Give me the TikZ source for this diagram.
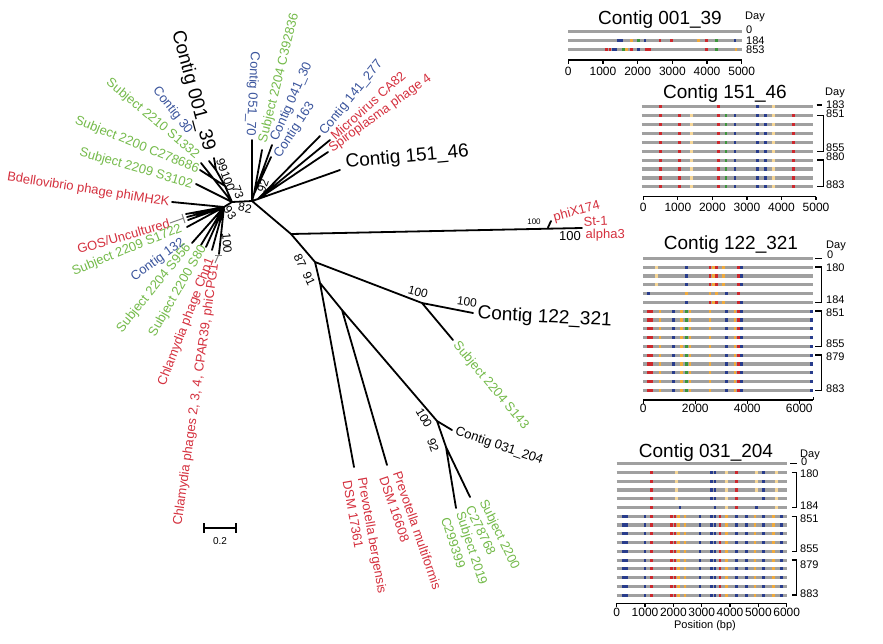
\documentclass[tikz,border=0pt]{standalone}
\usepackage{fontspec}
\setmainfont{Liberation Sans}
\definecolor{cr}{RGB}{212,48,62}
\definecolor{cg}{RGB}{116,186,74}
\definecolor{cb}{RGB}{58,84,156}
\definecolor{gbar}{RGB}{160,160,160}
\definecolor{dr}{RGB}{205,40,45}
\definecolor{db}{RGB}{40,60,140}
\definecolor{dg}{RGB}{60,150,60}
\definecolor{dor}{RGB}{240,170,60}
\definecolor{lor}{RGB}{246,214,150}
\newcommand\mkdots[3]{\foreach \yy in {#2}{\foreach \xx/\cc in {#3}{\fill[\cc] ({#1+\xx/3-1.2},{\yy-1.6}) rectangle ++(2.4,3.2);}}}
\begin{document}
\begin{tikzpicture}[x=1pt,y=-1pt,
  br/.style={line width=1.8pt,line cap=round,line join=round},
  gr/.style={line width=1pt,gray},
  lab/.style={font=\fontsize{13}{15}\selectfont,inner sep=0.5pt},
  big/.style={font=\fontsize{19}{22}\selectfont,inner sep=0.5pt},
  bs/.style={font=\fontsize{12}{14}\selectfont,inner sep=0.3pt},
  ttl/.style={font=\fontsize{19}{22}\selectfont,inner sep=0pt},
  axl/.style={font=\fontsize{12}{14}\selectfont,inner sep=0pt},
  dayl/.style={font=\fontsize{11}{12}\selectfont,inner sep=0pt,anchor=west},
  bar/.style={line width=3.2pt,gbar},
  ax/.style={line width=1.2pt},
  brk/.style={line width=1.3pt}]
\useasboundingbox (0,0) rectangle (883,643);
% ---------------- tree coordinates
\coordinate (A) at (232,202);
\coordinate (B) at (252,201);
\coordinate (C) at (224,207);
\coordinate (Q1) at (225,186);
\coordinate (Q2) at (216,170);
\coordinate (D) at (258,199);
\coordinate (N92) at (254,194);
\coordinate (E) at (291,234);
\coordinate (F) at (582,228);
\coordinate (Fn) at (548,227.5);
\coordinate (G) at (315,262);
\coordinate (H) at (320,283);
\coordinate (I) at (422,303);
\coordinate (J) at (342,310);
\coordinate (K) at (437,421);
\coordinate (L) at (446,447);
\coordinate (t001) at (214,158);
\coordinate (t30) at (209,161);
\coordinate (t1332) at (201,163);
\coordinate (t278686) at (200,170);
\coordinate (t3102) at (196,184);
\coordinate (tBdel) at (172,202);
\coordinate (tGOS) at (184,218);
\coordinate (g1) at (186,214);
\coordinate (g2) at (187,217);
\coordinate (g3) at (188,220);
\coordinate (g4) at (193,213);
\coordinate (g5) at (197,216);
\coordinate (t1722) at (187,227);
\coordinate (t132) at (192,243);
\coordinate (t956) at (201,245);
\coordinate (t80) at (206,247);
\coordinate (tChp1) at (212,250);
\coordinate (tChl) at (219,254);
\coordinate (t051) at (252,140);
\coordinate (t392836) at (262,150);
\coordinate (t041) at (272,145);
\coordinate (t163) at (271,157);
\coordinate (t141) at (320,136);
\coordinate (tCA82) at (330,140);
\coordinate (tSpiro) at (328,152);
\coordinate (t151) at (340,170);
\coordinate (tphi) at (551,221);
\coordinate (t122) at (473,313);
\coordinate (t143) at (453,340);
\coordinate (tberg) at (354,467);
\coordinate (tmult) at (387,465);
\coordinate (t031) at (452,430);
\coordinate (t2019) at (456,508);
\coordinate (t2200) at (470,497);
% ---------------- branches
\draw[br] (A)--(B) (A)--(Q1) (Q1)--(Q2) (Q2)--(t001) (Q2)--(t30) (A)--(t1332)
  (Q1)--(t278686) (A)--(t3102) (A)--(C) (C)--(tBdel)
  (C)--(g1) (C)--(g2) (C)--(g3) (C)--(g4) (C)--(g5)
  (C)--(t1722) (C)--(t132) (C)--(t956) (C)--(t80) (C)--(tChp1) (C)--(tChl)
  (B)--(t051) (B)--(N92) (N92)--(t392836) (N92)--(t041) (N92)--(t163)
  (B)--(D) (D)--(t141) (D)--(tCA82) (D)--(tSpiro) (D)--(t151)
  (B)--(E) (E)--(F) (Fn)--(tphi) (E)--(G) (G)--(I) (I)--(t122) (I)--(t143)
  (G)--(H) (H)--(tberg) (H)--(J) (J)--(tmult) (J)--(K) (K)--(t031) (K)--(L)
  (L)--(t2019) (L)--(t2200);
% collapsed clade marks
\coordinate (gosA) at (182,214);
\coordinate (gosB) at (185,223);
\draw[gr] (gosA)--(gosB);
\coordinate (chA) at (215,255);
\coordinate (chB) at (222,255);
\draw[gr] (chA)--(chB);
% ---------------- labels, left
\node[big,anchor=east,rotate=-75] (l001) at (209,151) {Contig 001\_39};
\node[lab,cb,anchor=east,rotate=-52] (l30) at (190,133) {Contig 30};
\node[lab,cg,anchor=east,rotate=-40] (l1332) at (198,157) {Subject 2210 S1332};
\node[lab,cg,anchor=east,rotate=-22] (l278686) at (199,170) {Subject 2200 C278686};
\node[lab,cg,anchor=east,rotate=-16] (l3102) at (193,185) {Subject 2209 S3102};
\node[lab,cr,anchor=east,rotate=-9] (lBdel) at (170,203) {Bdellovibrio phage phiMH2K};
\node[lab,cr,anchor=east,rotate=16] (lGOS) at (170,223) {GOS/Uncultured};
\node[lab,cg,anchor=east,rotate=22] (l1722) at (182,228) {Subject 2209 S1722};
\node[lab,cb,anchor=east,rotate=36] (l132) at (184,241) {Contig 132};
\node[lab,cg,anchor=east,rotate=51] (l956) at (189,245) {Subject 2204 S956};
\node[lab,cg,anchor=east,rotate=60] (l80) at (204,246) {Subject 2200 S80};
\node[lab,cr,anchor=east,rotate=69] (lChp1) at (211,258) {Chlamydia phage Chp1};
\node[lab,cr,anchor=east,rotate=82] (lChl) at (215,263) {Chlamydia phages 2, 3, 4, CPAR39, phiCPG1};
\draw[gr] (lGOS.east)--(tGOS);
\draw[gr] (lChl.east)--(tChl);
% ---------------- labels, top
\node[lab,cb,anchor=east,rotate=-93] (l051) at (250,137) {Contig 051\_70};
\node[lab,cg,anchor=west,rotate=76] (l392836) at (263,143) {Subject 2204 C392836};
\node[lab,cb,anchor=west,rotate=66] (l041) at (274,141) {Contig 041\_30};
\node[lab,cb,anchor=west,rotate=57] (l163) at (277,157) {Contig 163};
\node[lab,cb,anchor=west,rotate=51] (l141) at (322,134) {Contig 141\_277};
\node[lab,cr,anchor=west,rotate=42] (lCA82) at (332,138) {Microvirus CA82};
\node[lab,cr,anchor=west,rotate=36] (lSpiro) at (330,150) {Spiroplasma phage 4};
\node[big,anchor=west,rotate=5] (l151) at (345,163) {Contig 151\_46};
% ---------------- labels, right and bottom
\node[lab,cr,anchor=west,rotate=15] (lphi) at (553,218) {phiX174};
\node[lab,cr,anchor=west,rotate=3] (lSt) at (583,222) {St-1};
\node[lab,cr,anchor=west] (lalpha) at (585,235) {alpha3};
\node[big,anchor=west,rotate=-3] (l122) at (477,314) {Contig 122\_321};
\node[lab,cg,anchor=west,rotate=-50] (l143) at (455,343) {Subject 2204 S143};
\node[lab,anchor=west,rotate=-19] (l031) at (455,431) {Contig 031\_204};
\node[lab,cr,anchor=west,rotate=-80] (lberg1) at (361,477) {Prevotella bergensis};
\node[lab,cr,anchor=west,rotate=-80] (lberg2) at (347,480) {DSM 17361};
\node[lab,cr,anchor=west,rotate=-71] (lmult1) at (397,471) {Prevotella multiformis};
\node[lab,cr,anchor=west,rotate=-71] (lmult2) at (383,476) {DSM 16608};
\node[lab,cg,anchor=west,rotate=-72] (l2019a) at (459,512) {Subject 2019};
\node[lab,cg,anchor=west,rotate=-72] (l2019b) at (445,517) {C299399};
\node[lab,cg,anchor=west,rotate=-64] (l2200a) at (482,500) {Subject 2200};
\node[lab,cg,anchor=west,rotate=-64] (l2200b) at (469,506) {C278768};
% ---------------- bootstrap values
\node[bs,rotate=-70] (b99) at (222,165) {99};
\node[bs,rotate=-70] (b100a) at (228,181) {100};
\node[bs,rotate=-70] (b73) at (238,192) {73};
\node[bs,rotate=-55] (b93) at (230,213) {93};
\node[bs,rotate=-10] (b82) at (245,208) {82};
\node[bs,rotate=70] (b92a) at (263,186) {92};
\node[bs,rotate=-85] (b100b) at (227,243) {100};
\node[bs,rotate=-65] (b87) at (300,261) {87};
\node[bs,rotate=-65] (b91) at (309,279) {91};
\node[bs,rotate=-15] (b100c) at (418,292) {100};
\node[bs,rotate=-8] (b100d) at (467,302) {100};
\node[font=\fontsize{8}{9}\selectfont,inner sep=0pt] (b100e) at (534,222) {100};
\node[lab] (b100f) at (570,236) {100};
\node[bs,rotate=-60] (b100g) at (424,418) {100};
\node[bs,rotate=-70] (b92b) at (433,445) {92};
% scale bar
\coordinate (sb1) at (204,528);
\coordinate (sb2) at (236,528);
\draw[line width=1.8pt] (sb1)--(sb2) (sb1) ++(0,-5)--++(0,10) (sb2) ++(0,-5)--++(0,10);
\node[font=\fontsize{10}{12}\selectfont] (sbl) at (220,541) {0.2};
% ================= panel 1: Contig 001_39
\node[ttl] (p1t) at (660,20) {Contig 001\_39};
\foreach \y in {31.7,40.7,49.3} \draw[bar] (568,\y)--(742,\y);
\mkdots{560}{40.7}{175/db,185/db,215/dor,235/dg,255/db,300/dr,335/dr,415/dor,440/dr,470/dg,525/db}
\mkdots{560}{49.3}{140/dr,150/dr,160/db,168/db,190/dg,200/dor,215/dr,235/db,260/dr,268/dr,440/dr,470/dg,528/dor}
\draw[ax] (568.3,60)--(741.7,60);
\foreach \k/\t in {0/0,1/1000,2/2000,3/3000,4/4000,5/5000}{
  \draw[ax] ({568.3+34.68*\k},60)--++(0,3.5);
  \node[axl] at ({568.3+34.68*\k},71) {\t};}
\node[dayl] at (745,17) {Day};
\node[dayl] at (746,30) {0};
\node[dayl] at (746,41) {184};
\node[dayl] at (746,50) {853};
% ================= panel 2: Contig 151_46
\node[ttl] (p2t) at (725,94) {Contig 151\_46};
\foreach \y in {106.7,115.6,124.5,133.4,142.3,151.2,160.1,169.0,177.9,186.8} \draw[bar] (641.7,\y)--(813.3,\y);
\mkdots{620}{106.7}{122/dr,295/dr,412/db,460/lor}
\mkdots{620}{115.6,124.5,133.4,142.3,151.2,160.1,169.0,177.9,186.8}{122/dr,178/dr,215/lor,295/dr,318/dg,345/db,412/db,437/db,460/lor,520/dr}
\draw[ax] (643.3,196.7)--(816,196.7);
\foreach \k/\t in {0/0,1/1000,2/2000,3/3000,4/4000,5/5000}{
  \draw[ax] ({643.3+34.54*\k},196.7)--++(0,3.5);
  \node[axl] at ({643.3+34.54*\k},207.5) {\t};}
\draw[brk] (816.7,105)--(821.7,105);
\draw[brk] (817,115.6)--(823.5,115.6)--(823.5,151.2)--(817,151.2);
\draw[brk] (817,160.1)--(823.5,160.1)--(823.5,186.8)--(817,186.8);
\node[dayl] at (825,93) {Day};
\node[dayl] at (826,105) {183};
\node[dayl] at (826,113.5) {851};
\node[dayl] at (826,148) {855};
\node[dayl] at (826,157) {880};
\node[dayl] at (826,185) {883};
% ================= panel 3: Contig 122_321
\node[ttl] (p3t) at (731,245) {Contig 122\_321};
\foreach \y in {258.3,267.1,275.9,284.7,293.5,302.3,311.1,319.9,328.7,337.5,346.3,355.1,363.9,372.7,381.5,390.3} \draw[bar] (643.3,\y)--(813.3,\y);
\mkdots{620}{267.1,275.9,284.7}{110/lor,200/db,270/dr,280/dor,290/dr,310/dor,355/dr,365/db}
\mkdots{620}{293.5}{85/db,200/dor,270/dor,290/dor,320/db,355/dr}
\mkdots{620}{302.3}{200/db,270/dr,280/dor,290/dr,310/dor,355/dr,365/db}
\mkdots{620}{311.1,319.9,328.7,337.5,346.3,355.1,363.9,372.7,381.5,390.3}{85/dr,95/dr,120/dor,160/db,185/dor,200/dg,210/dor,270/dor,320/db,345/dor,355/dr,365/db,575/db}
\draw[ax] (643.3,400)--(813.3,400);
\foreach \k/\t in {0/0,1/2000,2/4000,3/6000}{
  \draw[ax] ({643.3+52*\k},400)--++(0,3.5);
  \node[axl] at ({643.3+52*\k},408.5) {\t};}
\draw[ax] (813.3,400)--++(0,-3.5);
\draw[brk] (815,258.3)--(821.7,258.3);
\draw[brk] (815,267.1)--(821.7,267.1)--(821.7,302.3)--(815,302.3);
\draw[brk] (815,311.1)--(821.7,311.1)--(821.7,346.3)--(815,346.3);
\draw[brk] (815,355.1)--(821.7,355.1)--(821.7,390.3)--(815,390.3);
\node[dayl] at (826,246) {Day};
\node[dayl] at (827,255) {0};
\node[dayl] at (826,268) {180};
\node[dayl] at (826,300) {184};
\node[dayl] at (826,313) {851};
\node[dayl] at (826,344) {855};
\node[dayl] at (826,357) {879};
\node[dayl] at (826,389) {883};
% ================= panel 4: Contig 031_204
\node[ttl] (p4t) at (706,453) {Contig 031\_204};
\foreach \y in {463.7,472.5,481.2,490.0,498.7,507.5,516.3,525.0,533.8,542.5,551.3,560.1,568.8,577.6,586.3,595.1} \draw[bar] (616.7,\y)--(786.7,\y);
\mkdots{600}{472.5,481.2,490.0}{155/dr,230/lor,335/db,345/db,380/lor,410/dr,470/lor,490/db,530/lor}
\mkdots{600}{498.7}{155/dr,230/lor,335/db,345/db,380/lor,410/dr,490/db,530/lor}
\mkdots{600}{507.5}{155/dr,240/db,345/db,380/lor,410/dr,470/db,530/lor}
\mkdots{600}{516.3,525.0,533.8,542.5,551.3,560.1,568.8,577.6,586.3,595.1}{70/db,80/db,135/db,155/dr,215/dr,225/dr,235/dor,255/dor,300/db,335/db,345/db,360/dr,380/dor,410/db,440/db,465/dor,490/db,520/dor,545/db}
\draw[ax] (616.7,603.3)--(786.7,603.3);
\foreach \k/\t in {0/0,1/1000,2/2000,3/3000,4/4000,5/5000,6/6000}{
  \draw[ax] ({616.7+28.33*\k},603.3)--++(0,3.5);
  \node[axl] at ({616.7+28.33*\k},612.5) {\t};}
\node[font=\fontsize{11}{13}\selectfont] (pos) at (705,626) {Position (bp)};
\draw[brk] (790,463.7)--(796.7,463.7);
\draw[brk] (791.7,472.5)--(796.7,472.5)--(796.7,507.5)--(791.7,507.5);
\draw[brk] (791.7,516.3)--(796.7,516.3)--(796.7,551.3)--(791.7,551.3);
\draw[brk] (791.7,560.1)--(796.7,560.1)--(796.7,595.1)--(791.7,595.1);
\node[dayl] at (800,455) {Day};
\node[dayl] at (801,462) {0};
\node[dayl] at (800,474) {180};
\node[dayl] at (800,506) {184};
\node[dayl] at (800,519) {851};
\node[dayl] at (800,549) {855};
\node[dayl] at (800,565) {879};
\node[dayl] at (800,594) {883};
\end{tikzpicture}
\end{document}
